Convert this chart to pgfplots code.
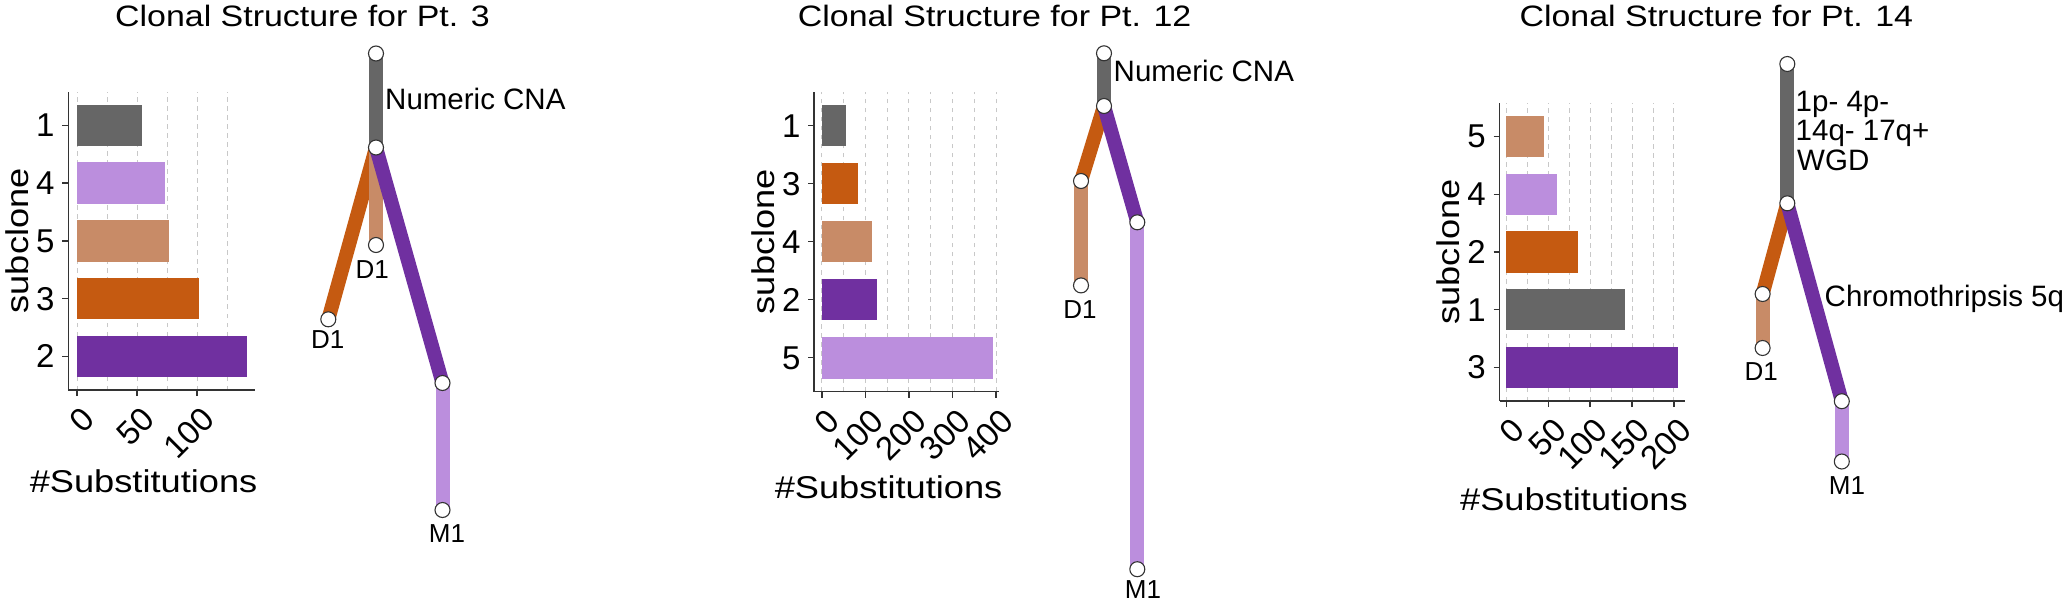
\documentclass[border=0pt]{standalone}
\usepackage{fontspec}
\setmainfont{Liberation Sans}
\newfontfamily\widefont{Liberation Sans}[FakeStretch=1.15]
\usepackage{pgfplots}
\pgfplotsset{compat=1.18}
\definecolor{cgrey}{HTML}{666666}
\definecolor{clpur}{HTML}{BB8EDD}
\definecolor{ctan}{HTML}{C88B67}
\definecolor{corg}{HTML}{C55A11}
\definecolor{cpur}{HTML}{7030A0}
\definecolor{cgrid}{HTML}{C8C8C8}
\definecolor{cspine}{HTML}{333333}
\newcommand\titlefont{\widefont\fontsize{29.5}{34}\selectfont}
\newcommand\axtitlefont{\widefont\fontsize{31.5}{36}\selectfont}
\newcommand\tickfont{\fontsize{33}{38}\selectfont}
\newcommand\edgefont{\fontsize{29.5}{34}\selectfont}
\newcommand\nodefont{\fontsize{26}{30}\selectfont}
\pgfplotsset{
  barpanel/.style={
    scale only axis, anchor=south west,
    axis x line*=bottom, axis y line*=left,
    axis line style={line width=1.6pt, cspine, -},
    tick align=outside, major tick length=6pt, minor tick length=0pt,
    tick style={line width=1.3pt, cspine},
    ymin=0.42, ymax=5.58, ytick={1,2,3,4,5},
    xmajorgrids, xminorgrids,
    major grid style={cgrid, line width=1pt, dash pattern=on 4.5pt off 4.5pt},
    minor grid style={cgrid, line width=1pt, dash pattern=on 4.5pt off 4.5pt},
    /pgf/number format/assume math mode=true,
    ticklabel style={font=\tickfont},
    yticklabel style={inner sep=0pt, xshift=-7.5pt},
    xticklabel style={inner sep=0pt, xshift=3.5pt, yshift=-9pt, rotate=45, anchor=north east},
    every axis y label/.style={at={(axis description cs:0,0.5)}, xshift=-51pt, rotate=90, anchor=center, font=\axtitlefont},
    every axis x label/.style={anchor=center, font=\axtitlefont},
    ylabel={subclone}, xlabel={\#Substitutions},
    clip=false,
  },
  hbar/.style={xbar, bar width=41.4pt, bar shift=0pt, draw=none, fill=#1},
  edge/.style={line width=14pt, color=#1, line cap=butt},
  tnodes/.style={only marks, mark=*, mark size=7.5pt, mark options={fill=white, draw=black!80, line width=1.1pt}},
}
\begin{document}
\begin{tikzpicture}
\useasboundingbox (0,0) rectangle (2069pt,-601pt);
% ---------- Panel 1 bars
\begin{axis}[barpanel, at={(68.3pt,-390pt)}, width=186.7pt, height=298.3pt,
  xmin=-7.25, xmax=148.3, xtick={0,50,100}, minor xtick={25,75,125},
  yticklabels={2,3,5,4,1},
  x label style={at={(axis description cs:0.403,0)}, yshift=-91pt}]
\addplot[hbar=cpur] coordinates {(142,1)};
\addplot[hbar=corg] coordinates {(102,2)};
\addplot[hbar=ctan] coordinates {(76.5,3)};
\addplot[hbar=clpur] coordinates {(73,4)};
\addplot[hbar=cgrey] coordinates {(54,5)};
\end{axis}
% ---------- Panel 2 bars
\begin{axis}[barpanel, at={(814.2pt,-391.5pt)}, width=185.1pt, height=299.5pt,
  xmin=-17.7, xmax=407.6, xtick={0,100,200,300,400}, minor xtick={50,150,250,350},
  yticklabels={5,2,4,3,1},
  x label style={at={(axis description cs:0.4015,0)}, yshift=-95.5pt}]
\addplot[hbar=clpur] coordinates {(393,1)};
\addplot[hbar=cpur] coordinates {(126,2)};
\addplot[hbar=ctan] coordinates {(114,3)};
\addplot[hbar=corg] coordinates {(82,4)};
\addplot[hbar=cgrey] coordinates {(55,5)};
\end{axis}
% ---------- Panel 3 bars
\begin{axis}[barpanel, at={(1499.5pt,-401pt)}, width=185.7pt, height=298pt,
  xmin=-8.1, xmax=213.4, xtick={0,50,100,150,200}, minor xtick={25,75,125,175},
  yticklabels={3,1,2,4,5},
  x label style={at={(axis description cs:0.4006,0)}, yshift=-98pt}]
\addplot[hbar=cpur] coordinates {(205,1)};
\addplot[hbar=cgrey] coordinates {(141,2)};
\addplot[hbar=corg] coordinates {(86,3)};
\addplot[hbar=clpur] coordinates {(60,4)};
\addplot[hbar=ctan] coordinates {(45,5)};
\end{axis}
% ---------- Trees and titles (pixel coordinates)
\begin{axis}[at={(0pt,0pt)}, anchor=north west, scale only axis, width=2069pt, height=601pt,
  xmin=0, xmax=2069, ymin=0, ymax=601, y dir=reverse, hide axis, clip=false]
% Panel 1 tree
\addplot[edge=cgrey] coordinates {(376,53.5) (376,147.5)};
\addplot[edge=corg] coordinates {(376,147.5) (328.3,319.3)};
\addplot[edge=ctan] coordinates {(376,147.5) (376,245)};
\addplot[edge=cpur] coordinates {(376,147.5) (442.5,383)};
\addplot[edge=clpur] coordinates {(442.5,383) (442.5,510)};
\addplot[tnodes] coordinates {(376,53.5) (376,147.5) (328.3,319.3) (376,245) (442.5,383) (442.5,510)};
% Panel 2 tree
\addplot[edge=cgrey] coordinates {(1104,53.3) (1104,106)};
\addplot[edge=corg] coordinates {(1104,106) (1081,181)};
\addplot[edge=ctan] coordinates {(1081,181) (1081,285.4)};
\addplot[edge=cpur] coordinates {(1104,106) (1137.3,222.3)};
\addplot[edge=clpur] coordinates {(1137.3,222.3) (1137.3,569.2)};
\addplot[tnodes] coordinates {(1104,53.3) (1104,106) (1081,181) (1081,285.4) (1137.3,222.3) (1137.3,569.2)};
% Panel 3 tree
\addplot[edge=cgrey] coordinates {(1787.3,64) (1787.3,203.3)};
\addplot[edge=corg] coordinates {(1787.3,203.3) (1762.6,294)};
\addplot[edge=ctan] coordinates {(1762.6,294) (1762.6,348)};
\addplot[edge=cpur] coordinates {(1787.3,203.3) (1841.8,401.2)};
\addplot[edge=clpur] coordinates {(1841.8,401.2) (1841.8,461.5)};
\addplot[tnodes] coordinates {(1787.3,64) (1787.3,203.3) (1762.6,294) (1762.6,348) (1841.8,401.2) (1841.8,461.5)};
% titles
\node[font=\titlefont, anchor=base] at (axis cs:302.5,26) {Clonal Structure for Pt. 3};
\node[font=\titlefont, anchor=base] at (axis cs:994.6,26) {Clonal Structure for Pt. 12};
\node[font=\titlefont, anchor=base] at (axis cs:1716.3,26) {Clonal Structure for Pt. 14};
% edge labels
\node[font=\edgefont, anchor=base west, inner sep=0pt] at (axis cs:385,109.3) {Numeric CNA};
\node[font=\edgefont, anchor=base west, inner sep=0pt] at (axis cs:1113.5,81.7) {Numeric CNA};
\node[font=\edgefont, anchor=base west, inner sep=0pt] at (axis cs:1795.5,111.7) {1p- 4p-};
\node[font=\edgefont, anchor=base west, inner sep=0pt] at (axis cs:1795.5,140) {14q- 17q+};
\node[font=\edgefont, anchor=base west, inner sep=0pt] at (axis cs:1797,170) {WGD};
\node[font=\edgefont, anchor=base west, inner sep=0pt] at (axis cs:1824.5,306.7) {Chromothripsis 5q};
% node labels
\node[font=\nodefont, anchor=base, inner sep=0pt] at (axis cs:372.3,278.3) {D1};
\node[font=\nodefont, anchor=base, inner sep=0pt] at (axis cs:327.8,348.3) {D1};
\node[font=\nodefont, anchor=base, inner sep=0pt] at (axis cs:447,542) {M1};
\node[font=\nodefont, anchor=base, inner sep=0pt] at (axis cs:1080,318.5) {D1};
\node[font=\nodefont, anchor=base, inner sep=0pt] at (axis cs:1143,598) {M1};
\node[font=\nodefont, anchor=base, inner sep=0pt] at (axis cs:1761.3,380.8) {D1};
\node[font=\nodefont, anchor=base, inner sep=0pt] at (axis cs:1847,494) {M1};
\end{axis}
\end{tikzpicture}
\end{document}
